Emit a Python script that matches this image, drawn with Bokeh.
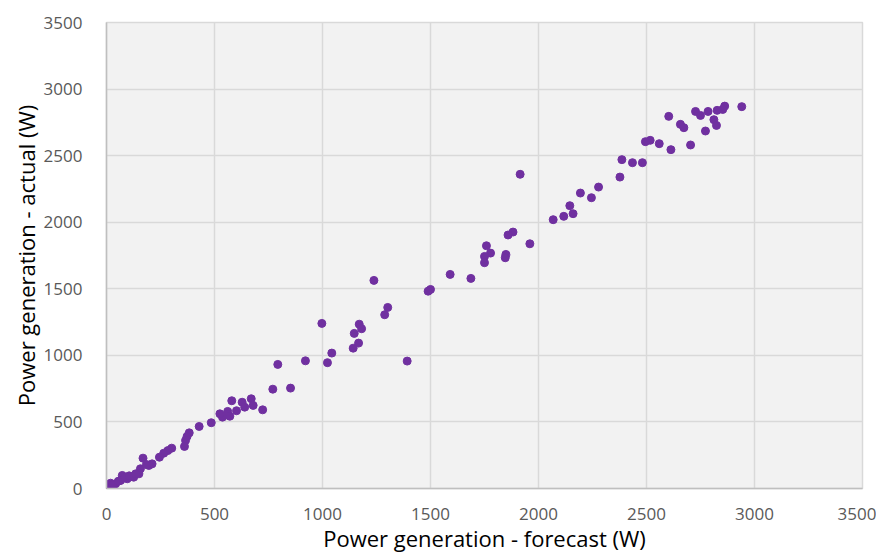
from bokeh.plotting import figure
from bokeh.models import Range1d, SingleIntervalTicker, ColumnDataSource
from bokeh.embed import file_html
from bokeh.resources import INLINE

forecast = [2941, 2862, 2853, 2827, 2785, 2727, 2750, 2812, 2824, 2773, 2603, 2657, 2673,
            2704, 2613, 2559, 2517, 2495, 2481, 2435, 2386, 2377, 2278, 2245, 2194,
            2145, 2117, 2160, 2068, 1915, 1882, 1859, 1960, 1849, 1846, 1759, 1778, 1750, 1750,
            1687, 1591, 1500, 1489, 1238, 1302, 1288, 1170, 1181, 1147, 1167, 1142, 1392,
            1043, 1023, 997, 921, 793, 852, 770, 723, 670, 679, 628, 640, 602, 580, 561,
            571, 537, 525, 485, 429, 383, 373, 366, 361, 302, 284, 265, 245, 211, 196, 169,
            157, 150, 126, 96, 73, 65, 42, 19, 3, 11, 0, 20, 30, 55, 85, 105, 135, 185]
actual = [2868, 2872, 2847, 2840, 2832, 2832, 2802, 2770, 2727, 2685, 2795, 2735, 2710,
          2580, 2545, 2590, 2615, 2605, 2447, 2447, 2470, 2339, 2264, 2184, 2219,
          2124, 2044, 2064, 2019, 2360, 1926, 1904, 1838, 1758, 1733, 1823, 1768, 1743, 1696,
          1578, 1608, 1495, 1482, 1563, 1360, 1305, 1234, 1200, 1165, 1092, 1054, 957,
          1017, 945, 1240, 959, 932, 754, 746, 591, 674, 624, 648, 611, 584, 659, 579,
          543, 536, 561, 494, 466, 418, 391, 361, 316, 303, 285, 265, 235, 185, 173, 228,
          148, 110, 85, 73, 98, 60, 35, 40, 23, 0, 0, 10, 30, 55, 80, 95, 110, 180]

x_label = "Power generation - forecast (W)"
y_label = "Power generation - actual (W)"

src = ColumnDataSource(dict(x=forecast, y=actual))

p = figure(width=876, height=555, output_backend="svg", toolbar_location=None,
           x_range=Range1d(0, 3500), y_range=Range1d(0, 3500),
           min_border_left=106, min_border_right=14, min_border_top=22, min_border_bottom=67)
p.background_fill_color = "#f2f2f2"
p.border_fill_color = "white"
p.outline_line_color = "#d9d9d9"
p.outline_line_width = 1.5

p.scatter("x", "y", source=src, size=8, fill_color="#7030a0", line_color="#7030a0")

for ax in (p.xaxis[0], p.yaxis[0]):
    ax.ticker = SingleIntervalTicker(interval=500)
    ax.major_tick_line_color = None
    ax.minor_tick_line_color = None
    ax.axis_line_color = "#bfbfbf"
    ax.axis_line_width = 1.5
    ax.major_label_text_font = "Open Sans"
    ax.major_label_text_font_size = "17px"
    ax.major_label_text_color = "#595959"
    ax.axis_label_text_font = "Open Sans"
    ax.axis_label_text_font_size = "22px"
    ax.axis_label_text_font_style = "normal"
    ax.axis_label_text_color = "#000000"

p.xaxis.axis_label = x_label
p.yaxis.axis_label = y_label
p.xaxis.major_label_standoff = 13
p.yaxis.major_label_standoff = 18
p.xaxis.axis_label_standoff = 0
p.yaxis.axis_label_standoff = 0

for g in (p.xgrid[0], p.ygrid[0]):
    g.ticker = SingleIntervalTicker(interval=500)
    g.grid_line_color = "#d9d9d9"
    g.grid_line_width = 1.5

open("out.html", "w").write(file_html(p, INLINE))
